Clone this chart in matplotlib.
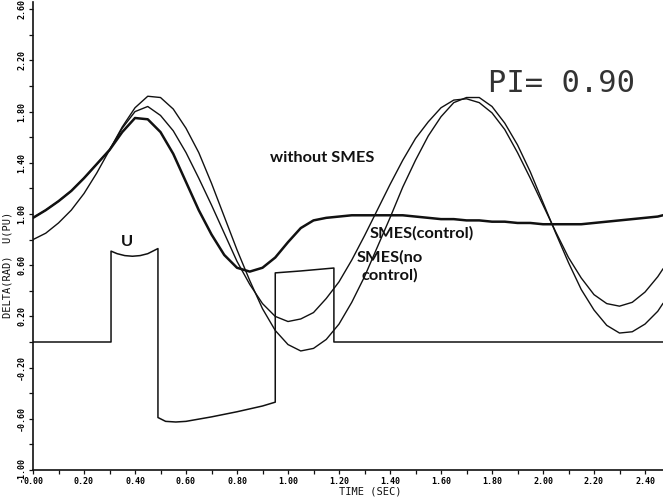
import matplotlib
matplotlib.use("Agg")
import matplotlib.pyplot as plt
from matplotlib.ticker import MultipleLocator, FixedLocator

# time samples (s)
t = [0.00, 0.05, 0.10, 0.15, 0.20, 0.25, 0.30, 0.35, 0.40, 0.45,
     0.50, 0.55, 0.60, 0.65, 0.70, 0.75, 0.80, 0.85, 0.90, 0.95,
     1.00, 1.05, 1.10, 1.15, 1.20, 1.25, 1.30, 1.35, 1.40, 1.45,
     1.50, 1.55, 1.60, 1.65, 1.70, 1.75, 1.80, 1.85, 1.90, 1.95,
     2.00, 2.05, 2.10, 2.15, 2.20, 2.25, 2.30, 2.35, 2.40, 2.45, 2.47]

# rotor angle without SMES (rad)
delta_without = [0.80, 0.85, 0.93, 1.03, 1.16, 1.32, 1.50, 1.68, 1.83, 1.92,
                 1.91, 1.82, 1.67, 1.48, 1.24, 0.98, 0.72, 0.48, 0.26, 0.09,
                 -0.02, -0.07, -0.05, 0.02, 0.14, 0.31, 0.51, 0.74, 0.97, 1.21,
                 1.42, 1.61, 1.76, 1.87, 1.91, 1.91, 1.84, 1.71, 1.54, 1.33,
                 1.09, 0.85, 0.62, 0.41, 0.25, 0.13, 0.07, 0.08, 0.14, 0.24, 0.30]

# rotor angle with SMES, no control (rad)
delta_no_control = [0.97, 1.03, 1.10, 1.18, 1.28, 1.39, 1.50, 1.67, 1.80, 1.84,
                    1.77, 1.65, 1.48, 1.28, 1.07, 0.85, 0.63, 0.45, 0.30, 0.20,
                    0.16, 0.18, 0.23, 0.34, 0.47, 0.64, 0.83, 1.03, 1.23, 1.42,
                    1.59, 1.72, 1.83, 1.89, 1.90, 1.87, 1.79, 1.66, 1.48, 1.28,
                    1.07, 0.86, 0.66, 0.50, 0.37, 0.30, 0.28, 0.31, 0.39, 0.51, 0.57]

# rotor angle with SMES under control (rad)
delta_control = [0.97, 1.03, 1.10, 1.18, 1.28, 1.39, 1.50, 1.64, 1.75, 1.74,
                 1.64, 1.47, 1.25, 1.03, 0.84, 0.68, 0.58, 0.55, 0.58, 0.66,
                 0.78, 0.89, 0.95, 0.97, 0.98, 0.99, 0.99, 0.99, 0.99, 0.99,
                 0.98, 0.97, 0.96, 0.96, 0.95, 0.95, 0.94, 0.94, 0.93, 0.93,
                 0.92, 0.92, 0.92, 0.92, 0.93, 0.94, 0.95, 0.96, 0.97, 0.98, 0.99]

# SMES control signal U (pu)
u_t = [0.00, 0.306, 0.306, 0.33, 0.36, 0.39, 0.42, 0.45, 0.49, 0.49,
       0.52, 0.56, 0.60, 0.70, 0.80, 0.90, 0.95, 0.95, 1.05, 1.18, 1.18, 2.47]
u_v = [0.00, 0.00, 0.71, 0.69, 0.675, 0.67, 0.675, 0.69, 0.73, -0.59,
       -0.62, -0.625, -0.62, -0.585, -0.545, -0.50, -0.47, 0.54, 0.555, 0.578, 0.00, 0.00]

x_ticks = [0.00, 0.20, 0.40, 0.60, 0.80, 1.00, 1.20, 1.40, 1.60, 1.80, 2.00, 2.20, 2.40]
y_ticks = [-1.00, -0.60, -0.20, 0.20, 0.60, 1.00, 1.40, 1.80, 2.20, 2.60]

W, H = 663, 503
fig = plt.figure(figsize=(W / 100, H / 100), dpi=100)
ax = fig.add_axes([33 / W, 33 / H, 630 / W, 468 / H])

ink = "#111111"
ax.plot(t, delta_without, color=ink, lw=1.0)
ax.plot(t, delta_no_control, color=ink, lw=1.0)
ax.plot(t, delta_control, color=ink, lw=1.8)
ax.plot(u_t, u_v, color=ink, lw=1.1)

ax.set_xlim(0, 630 / 255)
ax.set_ylim(-1.0, -1.0 + 468 / 128)

for side in ("top", "right"):
    ax.spines[side].set_visible(False)
for side in ("left", "bottom"):
    ax.spines[side].set_linewidth(1.2)
    ax.spines[side].set_color(ink)

tick_font = dict(family="DejaVu Sans Mono", weight="bold", size=6)
ax.xaxis.set_major_locator(FixedLocator(x_ticks))
ax.xaxis.set_minor_locator(MultipleLocator(0.1))
ax.yaxis.set_major_locator(FixedLocator(y_ticks))
ax.yaxis.set_minor_locator(MultipleLocator(0.2))
ax.set_xticklabels([f"{v:.2f}" for v in x_ticks], fontdict=tick_font)
ax.set_yticklabels([f"{v:.2f}" for v in y_ticks], fontdict=tick_font,
                   rotation=90, va="center")
ax.tick_params(which="both", direction="out", length=3, width=0.9, color=ink,
               pad=2)

fig.text(370 / W, 1 - 492 / H, "TIME (SEC)", ha="center", va="center",
         family="DejaVu Sans Mono", size=7.5, color=ink)
fig.text(8 / W, 1 - 265 / H, "DELTA(RAD)  U(PU)", ha="center", va="center",
         rotation=90, family="DejaVu Sans Mono", size=7.5, color=ink)

ax.text(1.785, 2.02, "PI= 0.90", ha="left", va="center",
        family="DejaVu Sans Mono", weight="light", size=22, color="#333333")

lab = dict(family="Lato", weight="bold", size=11.8, color=ink)
ax.text(0.93, 1.44, "without SMES", ha="left", va="center", **lab)
ax.text(1.32, 0.85, "SMES(control)", ha="left", va="center", **lab)
ax.text(1.27, 0.66, "SMES(no", ha="left", va="center", **lab)
ax.text(1.29, 0.52, "control)", ha="left", va="center", **lab)
ax.text(0.37, 0.78, "U", ha="center", va="center", **lab)

fig.savefig("out.png", dpi=100)
